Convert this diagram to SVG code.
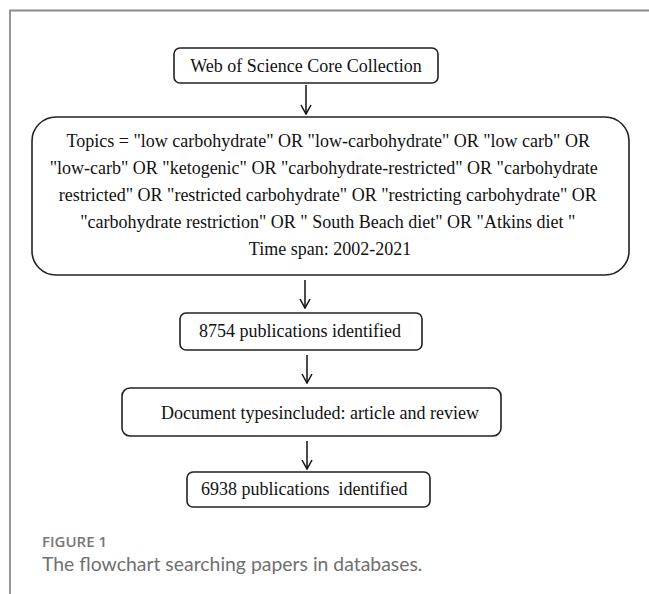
<svg xmlns="http://www.w3.org/2000/svg" width="649" height="594" viewBox="0 0 649 594">
<defs>
<style>
.box{fill:#ffffff;stroke:#222222;stroke-width:1.6}
.t{font-family:"Liberation Serif","Times New Roman",serif;font-size:18px;fill:#111111}
.c{fill:none;stroke:#111111;stroke-width:1.5}
.cap1{font-family:"Open Sans",Lato,sans-serif;font-size:15px;font-weight:600;fill:#777777}
.cap2{font-family:Lato,"Open Sans",sans-serif;font-size:19.4px;fill:#707070}
</style>
<marker id="ah" viewBox="0 0 12 12" refX="11" refY="6" markerWidth="12" markerHeight="12" markerUnits="userSpaceOnUse" orient="auto">
<path d="M2,1 L11,6 L2,11" fill="none" stroke="#111111" stroke-width="1.5"/>
</marker>
</defs>
<rect width="649" height="594" fill="#ffffff"/>
<g id="frame">
<path d="M10,594 L10,10.5 L649,10.5" fill="none" stroke="#8c8c8c" stroke-width="1.8"/>
</g>
<g id="connectors">
<line class="c" x1="306" y1="85" x2="306" y2="114" marker-end="url(#ah)"/>
<line class="c" x1="305" y1="280" x2="305" y2="308" marker-end="url(#ah)"/>
<line class="c" x1="307" y1="355" x2="307" y2="383" marker-end="url(#ah)"/>
<line class="c" x1="307" y1="441" x2="307" y2="469" marker-end="url(#ah)"/>
</g>
<g id="n1">
<rect class="box" x="174" y="48" width="264" height="35" rx="6"/>
<text class="t" x="306" y="71.5" text-anchor="middle">Web of Science Core Collection</text>
</g>
<g id="n2">
<rect class="box" x="32" y="117" width="597" height="158" rx="24"/>
<text class="t" text-anchor="middle">
<tspan x="330.5" y="147">Topics = "low carbohydrate" OR "low-carbohydrate" OR "low carb" OR</tspan>
<tspan x="326" y="174">"low-carb" OR "ketogenic" OR "carbohydrate-restricted" OR "carbohydrate</tspan>
<tspan x="330" y="201">restricted" OR "restricted carbohydrate" OR "restricting carbohydrate" OR</tspan>
<tspan x="330" y="228">"carbohydrate restriction" OR " South Beach diet" OR "Atkins diet "</tspan>
<tspan x="330" y="255">Time span: 2002-2021</tspan>
</text>
</g>
<g id="n3">
<rect class="box" x="180" y="313" width="242" height="37" rx="6"/>
<text class="t" x="300" y="337" text-anchor="middle">8754 publications identified</text>
</g>
<g id="n4">
<rect class="box" x="122" y="388" width="379" height="48" rx="8"/>
<text class="t" x="320" y="419" text-anchor="middle">Document typesincluded: article and review</text>
</g>
<g id="n5">
<rect class="box" x="187" y="472" width="243" height="35" rx="6"/>
<text class="t" x="201" y="494.5" xml:space="preserve">6938 publications  identified</text>
</g>
<g id="caption">
<text class="cap1" x="42" y="547">FIGURE 1</text>
<text class="cap2" x="42" y="571">The flowchart searching papers in databases.</text>
</g>
</svg>
